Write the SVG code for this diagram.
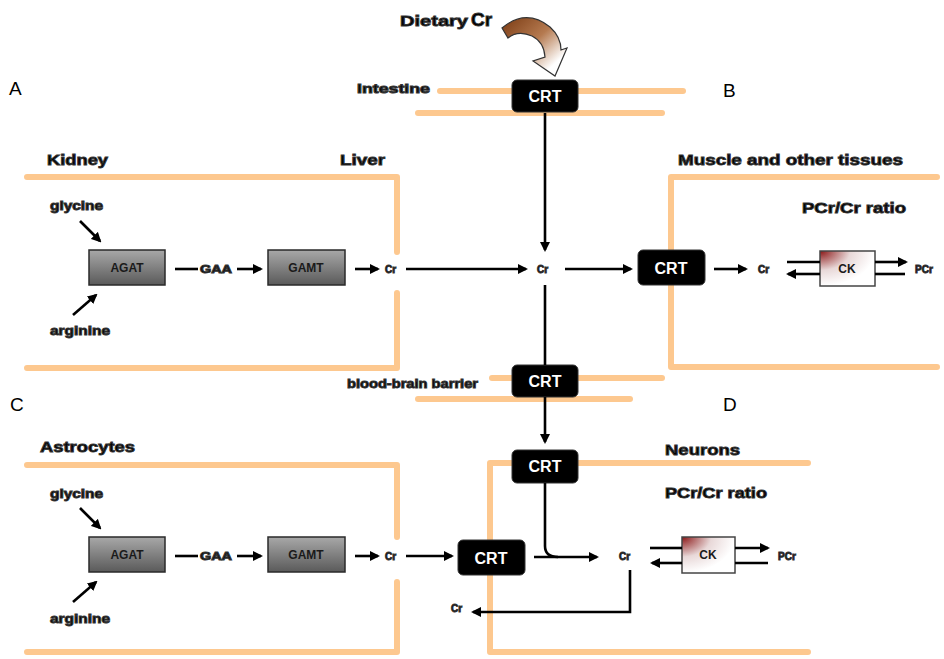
<svg xmlns="http://www.w3.org/2000/svg" width="944" height="659" viewBox="0 0 944 659">
<defs>
<style>
.mem{fill:none;stroke:#fdc88f;stroke-width:6;stroke-linecap:round;stroke-linejoin:round}
.ln{fill:none;stroke:#000;stroke-width:2.6}
.arr{fill:none;stroke:#000;stroke-width:2.6;marker-end:url(#ah)}
.t{font-family:"Liberation Sans",Arial,sans-serif;font-weight:bold;fill:#000;stroke:#333;stroke-width:0.9}
.big{font-size:15px}
.sm{font-size:12px}
.xs{font-size:10px}
.lt{font-family:"Liberation Sans",Arial,sans-serif;font-size:19px;fill:#000}
.crt{fill:#000;stroke:#333;stroke-width:1}
.crtt{font-family:"Liberation Sans",Arial,sans-serif;font-weight:bold;font-size:16px;fill:#fff;text-anchor:middle}
.enz{fill:url(#gEnz);stroke:#2a2a2a;stroke-width:1.5}
.enzt{font-family:"Liberation Sans",Arial,sans-serif;font-weight:bold;font-size:12px;fill:#1a1a1a;text-anchor:middle}
.ck{fill:url(#gCK);stroke:#444;stroke-width:1.5}
</style>
<marker id="ah" markerWidth="10" markerHeight="10" refX="8" refY="5" orient="auto" markerUnits="userSpaceOnUse">
<path d="M0,0 L10,5 L0,10 z" fill="#000"/>
</marker>
<linearGradient id="gEnz" x1="0" y1="0" x2="0" y2="1">
<stop offset="0" stop-color="#a8a8a8"/>
<stop offset="1" stop-color="#5a5a5a"/>
</linearGradient>
<radialGradient id="gCK" cx="0" cy="0" r="1" fx="0" fy="0">
<stop offset="0" stop-color="#8a1515"/>
<stop offset="0.55" stop-color="#e8d8d8"/>
<stop offset="1" stop-color="#ffffff"/>
</radialGradient>
<linearGradient id="gDiet" x1="0" y1="0" x2="1" y2="1">
<stop offset="0" stop-color="#7a3a12"/>
<stop offset="0.45" stop-color="#b57a50"/>
<stop offset="0.8" stop-color="#ffffff"/>
</linearGradient>
</defs>

<!-- membranes -->
<g id="membranes">
<path class="mem" d="M440,91 L683,91"/>
<path class="mem" d="M418,113 L662,113"/>
<path class="mem" d="M27,177 L397,177 L397,252"/>
<path class="mem" d="M397,293 L397,368 L27,368"/>
<path class="mem" d="M937,177 L671,177 L671,367 L937,367"/>
<path class="mem" d="M492,378 L662,378"/>
<path class="mem" d="M418,399 L630,399"/>
<path class="mem" d="M27,465 L397,465 L397,537"/>
<path class="mem" d="M397,582 L397,652 L27,652"/>
<path class="mem" d="M808,463 L490,463 L490,652 L808,652"/>
</g>

<!-- panel letters -->
<g id="letters">
<text class="lt" x="9" y="95">A</text>
<text class="lt" x="723" y="97">B</text>
<text class="lt" x="10" y="411">C</text>
<text class="lt" x="723" y="411">D</text>
</g>

<!-- labels -->
<g id="labels">
<text class="t big" x="400" y="26" textLength="68" lengthAdjust="spacingAndGlyphs">Dietary</text>
<text class="t" x="471" y="26" font-size="19px">Cr</text>
<text class="t sm" x="357" y="93" textLength="73" lengthAdjust="spacingAndGlyphs">Intestine</text>
<text class="t big" x="47" y="165" textLength="61" lengthAdjust="spacingAndGlyphs">Kidney</text>
<text class="t big" x="340" y="165" textLength="45" lengthAdjust="spacingAndGlyphs">Liver</text>
<text class="t big" x="678" y="165" textLength="225" lengthAdjust="spacingAndGlyphs">Muscle and other tissues</text>
<text class="t big" x="802" y="213" textLength="104" lengthAdjust="spacingAndGlyphs">PCr/Cr ratio</text>
<text class="t sm" x="347" y="388" textLength="131" lengthAdjust="spacingAndGlyphs">blood-brain barrier</text>
<text class="t big" x="40" y="452" textLength="95" lengthAdjust="spacingAndGlyphs">Astrocytes</text>
<text class="t big" x="665" y="455" textLength="75" lengthAdjust="spacingAndGlyphs">Neurons</text>
<text class="t big" x="665" y="498" textLength="102" lengthAdjust="spacingAndGlyphs">PCr/Cr ratio</text>
</g>

<!-- dietary arrow -->
<g id="dietary">
<path d="M502,28 Q526,8 550,27 Q561,37 561,50 L567,48 L555,76 L533,61 L545,57 Q544,42 532,36 Q518,30 508,38 Z" fill="url(#gDiet)" stroke="#333" stroke-width="1.2"/>
</g>

<!-- Kidney/Liver pathway (A) -->
<g id="A-glycine"><text class="t sm" x="50" y="210" textLength="53" lengthAdjust="spacingAndGlyphs">glycine</text></g>
<g id="A-arginine"><text class="t sm" x="50" y="335" textLength="60" lengthAdjust="spacingAndGlyphs">arginine</text></g>
<g id="A-AGAT"><rect class="enz" x="89" y="250" width="76" height="35"/><text class="enzt" x="127" y="272">AGAT</text></g>
<g id="A-GAA"><text class="t xs" x="200" y="273" textLength="32" lengthAdjust="spacingAndGlyphs">GAA</text></g>
<g id="A-GAMT"><rect class="enz" x="268" y="250" width="77" height="35"/><text class="enzt" x="306" y="272">GAMT</text></g>
<g id="A-Cr"><text class="t xs" x="385" y="273">Cr</text></g>

<!-- Blood Cr -->
<g id="blood-Cr"><text class="t xs" x="537" y="273">Cr</text></g>

<!-- CRT transporters -->
<g id="CRT-intestine"><rect class="crt" x="512" y="80" width="66" height="32" rx="5"/><text class="crtt" x="545" y="102">CRT</text></g>
<g id="CRT-muscle"><rect class="crt" x="638" y="250" width="67" height="35" rx="5"/><text class="crtt" x="671" y="274">CRT</text></g>
<g id="CRT-bbb"><rect class="crt" x="512" y="365" width="66" height="32" rx="5"/><text class="crtt" x="545" y="387">CRT</text></g>
<g id="CRT-neuron-top"><rect class="crt" x="512" y="450" width="66" height="33" rx="5"/><text class="crtt" x="545" y="472">CRT</text></g>
<g id="CRT-astro"><rect class="crt" x="458" y="540" width="67" height="35" rx="5"/><text class="crtt" x="491" y="564">CRT</text></g>

<!-- Muscle (B) -->
<g id="B-Cr"><text class="t xs" x="758" y="273">Cr</text></g>
<g id="B-CK"><rect class="ck" x="820" y="251" width="55" height="35"/><text class="enzt" x="847" y="273">CK</text></g>
<g id="B-PCr"><text class="t xs" x="915" y="273">PCr</text></g>

<!-- Astrocytes (C) -->
<g id="C-glycine"><text class="t sm" x="50" y="498" textLength="53" lengthAdjust="spacingAndGlyphs">glycine</text></g>
<g id="C-arginine"><text class="t sm" x="50" y="623" textLength="60" lengthAdjust="spacingAndGlyphs">arginine</text></g>
<g id="C-AGAT"><rect class="enz" x="89" y="537" width="76" height="35"/><text class="enzt" x="127" y="559">AGAT</text></g>
<g id="C-GAA"><text class="t xs" x="200" y="560" textLength="32" lengthAdjust="spacingAndGlyphs">GAA</text></g>
<g id="C-GAMT"><rect class="enz" x="268" y="537" width="77" height="35"/><text class="enzt" x="306" y="559">GAMT</text></g>
<g id="C-Cr"><text class="t xs" x="385" y="560">Cr</text></g>

<!-- Neurons (D) -->
<g id="D-Cr"><text class="t xs" x="619" y="560">Cr</text></g>
<g id="D-CK"><rect class="ck" x="682" y="537" width="53" height="36"/><text class="enzt" x="708" y="559">CK</text></g>
<g id="D-PCr"><text class="t xs" x="778" y="560">PCr</text></g>
<g id="D-Cr-out"><text class="t xs" x="451" y="612">Cr</text></g>

<!-- connectors -->
<g id="connectors">
<path class="arr" d="M80,221 L100,241"/>
<path class="arr" d="M73,315 L96,295"/>
<path class="ln" d="M175,269 L198,269"/>
<path class="arr" d="M237,269 L261,269"/>
<path class="arr" d="M355,269 L378,269"/>
<path class="arr" d="M406,269 L526,269"/>
<path class="arr" d="M545,113 L545,250"/>
<path class="ln" d="M545,285 L545,365"/>
<path class="arr" d="M565,269 L631,269"/>
<path class="arr" d="M714,269 L746,269"/>
<path class="ln" d="M787,262 L820,262"/>
<path class="arr" d="M820,274 L788,274"/>
<path class="arr" d="M875,262 L906,262"/>
<path class="ln" d="M875,274 L905,274"/>
<path class="arr" d="M545,397 L545,442"/>

<path class="arr" d="M80,508 L100,528"/>
<path class="arr" d="M73,602 L96,582"/>
<path class="ln" d="M175,556 L198,556"/>
<path class="arr" d="M237,556 L261,556"/>
<path class="arr" d="M355,556 L378,556"/>
<path class="arr" d="M406,556 L452,556"/>
<path class="arr" d="M534,557 L597,557"/>
<path class="ln" d="M545,483 L545,546 Q545,557 558,557"/>
<path class="ln" d="M650,548 L682,548"/>
<path class="arr" d="M682,563 L652,563"/>
<path class="arr" d="M735,548 L768,548"/>
<path class="ln" d="M735,563 L768,563"/>
<path class="arr" d="M630,570 L630,612 L473,612"/>
</g>
</svg>
